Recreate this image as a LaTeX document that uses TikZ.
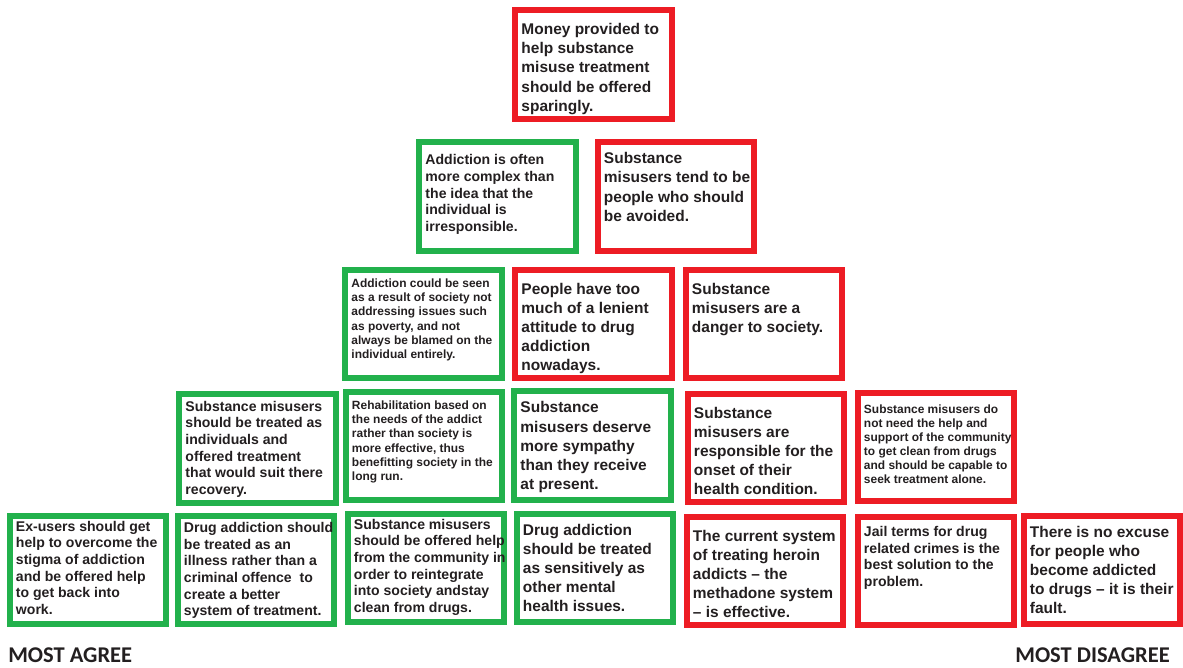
\documentclass[tikz,border=0pt]{standalone}
\usepackage{fontspec}
\setmainfont{Liberation Sans}
\newfontfamily\labelfont{Carlito}
\usetikzlibrary{positioning}
\definecolor{agreegreen}{HTML}{22B14C}
\definecolor{disagreered}{HTML}{ED1C24}
\definecolor{cardink}{HTML}{231F20}
\newcommand{\cardtxt}[2][0pt]{\parbox[t][2.3cm][t]{3.6cm}{\vspace*{#1}\begin{tabular}[t]{@{}l@{}}#2\end{tabular}}}
\tikzset{
	card/.style={draw, line width=0.15cm, fill=white, text=cardink, inner xsep=0.15cm, inner ysep=0.2cm},
	agree/.style={card, draw=agreegreen},
	disagree/.style={card, draw=disagreered},
	bigtext/.style={font=\bfseries\fontsize{11}{13.6}\selectfont},
	midtext/.style={font=\bfseries\fontsize{10}{11.8}\selectfont},
	smalltext/.style={font=\bfseries\fontsize{8.5}{10}\selectfont},
	endlabel/.style={font=\labelfont\bfseries\fontsize{16}{18}\selectfont, text=cardink, inner sep=0pt, text depth=0pt}
}
\begin{document}
\begin{tikzpicture}
		[x=0.025cm, y=-0.025cm]
		\useasboundingbox (0,0) rectangle (1183,668);
		\node[disagree, bigtext] (r1) at (593.5,64.5) {\cardtxt[2pt]{Money provided to\\help substance\\misuse treatment\\should be offered\\sparingly.}};
		\node[agree, midtext] (r2a) at (497.5,196.5) {\cardtxt[2pt]{Addiction is often\\more complex than\\the idea that the\\individual is\\irresponsible.}};
		\node[disagree, bigtext] (r2b) at (676,196.5) {\cardtxt{Substance\\misusers tend to be\\people who should\\be avoided.}};
		\node[agree, smalltext] (r3a) at (423.5,324) {\cardtxt{Addiction could be seen\\as a result of society not\\addressing issues such\\as poverty, and not\\always be blamed on the\\individual entirely.}};
		\node[disagree, bigtext] (r3b) at (593.5,324) {\cardtxt[2pt]{People have too\\much of a lenient\\attitude to drug\\addiction\\nowadays.}};
		\node[disagree, bigtext] (r3c) at (764,324) {\cardtxt[2pt]{Substance\\misusers are a\\danger to society.}};
		\node[agree, midtext] (r4a) at (257.5,448.5) {\cardtxt[-2pt]{Substance misusers\\should be treated as\\individuals and\\offered treatment\\that would suit there\\recovery.}};
		\node[agree, smalltext] (r4b) at (424,446) {\cardtxt{Rehabilitation based on\\the needs of the addict\\rather than society is\\more effective, thus\\benefitting society in the\\long run.}};
		\node[agree, bigtext] (r4c) at (592.5,445.5) {\cardtxt{Substance\\misusers deserve\\more sympathy\\than they receive\\at present.}};
		\node[disagree, bigtext] (r4d) at (766,448) {\cardtxt[2pt]{Substance\\misusers are\\responsible for the\\onset of their\\health condition.}};
		\node[disagree, smalltext] (r4e) at (936,447) {\cardtxt[2pt]{Substance misusers do\\not need the help and\\support of the community\\to get clean from drugs\\and should be capable to\\seek treatment alone.}};
		\node[agree, midtext] (r5a) at (88,570) {\cardtxt[-3pt]{Ex-users should get\\help to overcome the\\stigma of addiction\\and be offered help\\to get back into\\work.}};
		\node[agree, midtext] (r5b) at (256,570) {\cardtxt[-2pt]{Drug addiction should\\be treated as an\\illness rather than a\\criminal offence~ to\\create a better\\system of treatment.}};
		\node[agree, midtext] (r5c) at (426,568) {\cardtxt[-3pt]{Substance misusers\\should be offered help\\from the community in\\order to reintegrate\\into society andstay\\clean from drugs.}};
		\node[agree, bigtext] (r5d) at (595,568) {\cardtxt{Drug addiction\\should be treated\\as sensitively as\\other mental\\health issues.}};
		\node[disagree, bigtext] (r5e) at (765,571) {\cardtxt[2pt]{The current system\\of treating heroin\\addicts – the\\methadone system\\– is effective.}};
		\node[disagree, midtext] (r5f) at (936,571) {\cardtxt{Jail terms for drug\\related crimes is the\\best solution to the\\problem.}};
		\node[disagree, bigtext] (r5g) at (1102,570) {\cardtxt{There is no excuse\\for people who\\become addicted\\to drugs – it is their\\fault.}};
		\node[endlabel, anchor=base west] (agreelbl) at (8,662) {MOST AGREE};
		\node[endlabel, anchor=base east] (disagreelbl) at (1170,662) {MOST DISAGREE};
	\end{tikzpicture}
\end{document}
